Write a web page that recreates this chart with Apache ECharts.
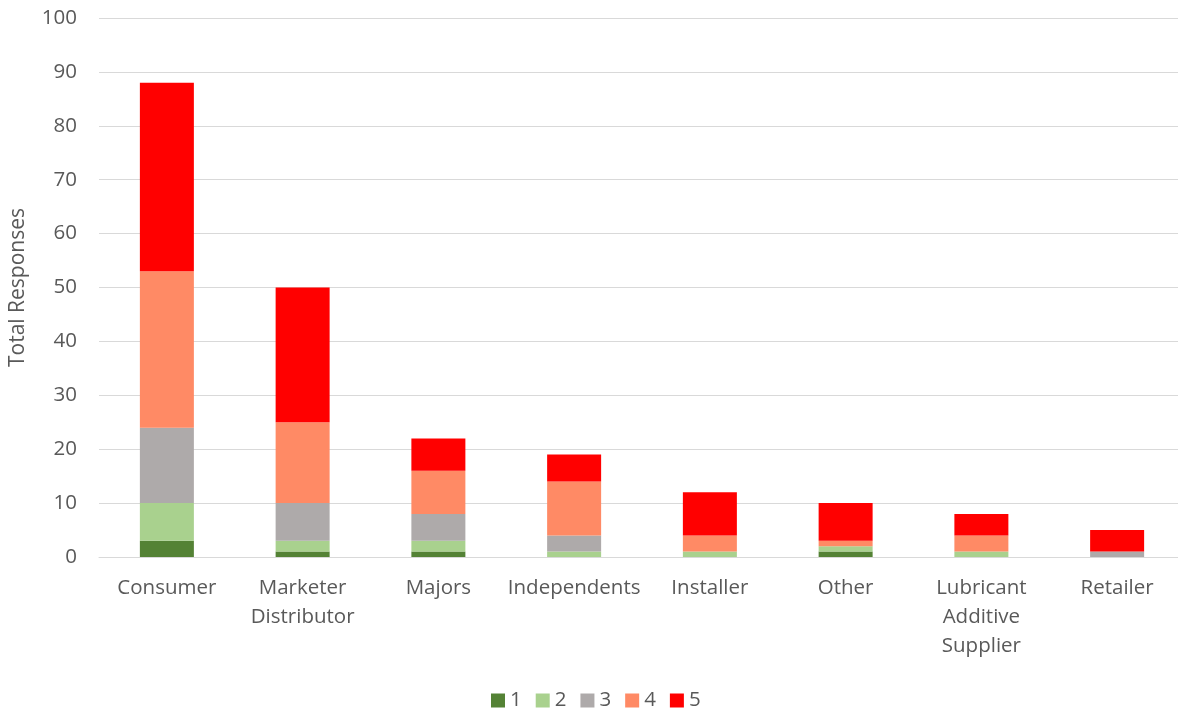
<!DOCTYPE html>
<html>
<head>
<meta charset="utf-8">
<script src="https://cdn.jsdelivr.net/npm/echarts@6/dist/echarts.min.js"></script>
<style>html,body{margin:0;padding:0;background:#fff}#c{width:1178px;height:710px}</style>
</head>
<body>
<div id="c"></div>
<script>
const categories = ["Consumer", "Marketer\nDistributor", "Majors", "Independents", "Installer", "Other", "Lubricant\nAdditive\nSupplier", "Retailer"];
const seriesNames = ["1", "2", "3", "4", "5"];
const s1 = [3, 1, 1, 0, 0, 1, 0, 0];
const s2 = [7, 2, 2, 1, 1, 1, 1, 0];
const s3 = [14, 7, 5, 3, 0, 0, 0, 1];
const s4 = [29, 15, 8, 10, 3, 1, 3, 0];
const s5 = [35, 25, 6, 5, 8, 7, 4, 4];
const yTicks = [0, 10, 20, 30, 40, 50, 60, 70, 80, 90, 100];
const colors = ["#548235", "#A9D18E", "#AEAAAA", "#FF8A65", "#FF0000"];
const values = [s1, s2, s3, s4, s5];
const font = "'Open Sans', 'Noto Sans', sans-serif";
const fs = 20.5;

const chart = echarts.init(document.getElementById('c'), null, {renderer: 'canvas'});
chart.setOption({
  animation: false,
  color: colors,
  legend: {
    bottom: -6,
    left: 486,
    itemWidth: 14,
    itemHeight: 14,
    itemGap: 14,
    icon: 'rect',
    textStyle: {fontFamily: font, fontSize: fs, color: '#595959'},
    data: seriesNames
  },
  grid: {left: 99, right: -7, top: 18, bottom: 153, containLabel: false, outerBoundsMode: 'none'},
  xAxis: {
    type: 'category',
    data: categories,
    axisTick: {show: false},
    axisLine: {lineStyle: {color: '#d9d9d9', width: 1}},
    axisLabel: {fontFamily: font, fontSize: fs, color: '#595959', margin: 17, lineHeight: 29, interval: 0}
  },
  yAxis: {
    type: 'value',
    min: yTicks[0],
    max: yTicks[yTicks.length - 1],
    interval: 10,
    name: 'Total Responses',
    nameLocation: 'middle',
    nameGap: 70,
    nameTextStyle: {fontFamily: font, fontSize: 21, color: '#595959'},
    axisLine: {show: false},
    axisTick: {show: false},
    splitLine: {lineStyle: {color: '#d9d9d9', width: 1}},
    axisLabel: {fontFamily: font, fontSize: fs, color: '#595959', margin: 22}
  },
  series: seriesNames.map((n, i) => ({
    name: n,
    type: 'bar',
    stack: 'total',
    barWidth: 54,
    data: values[i],
    itemStyle: {color: colors[i]}
  }))
});
</script>
</body>
</html>
